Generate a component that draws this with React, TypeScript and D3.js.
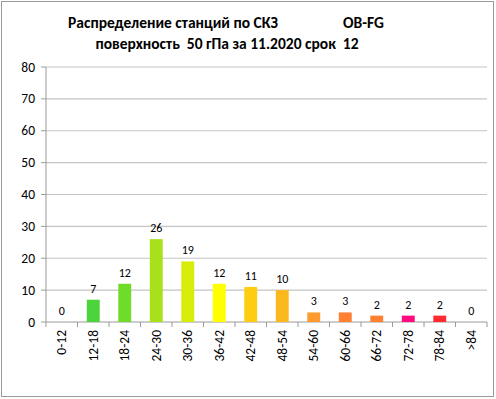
import React from "react";
import * as d3 from "d3";

const categories = ["0-12","12-18","18-24","24-30","30-36","36-42","42-48","48-54","54-60","60-66","66-72","72-78","78-84",">84"];
const values = [0,7,12,26,19,12,11,10,3,3,2,2,2,0];
const colors = ["#4cd43c","#4cd43c","#70dc2a","#a8e01a","#d8ec0a","#ffff00","#ffcc14","#fbb81e","#ff9a2e","#ff8030","#ff8030","#ff0880","#ff2a30","#ff2a30"];
const yTicks = [0,10,20,30,40,50,60,70,80];
const titleLine1 = "Распределение станций по СКЗ";
const titleTag = "OB-FG";
const titleLine2 = "поверхность  50 гПа за 11.2020 срок  12";

const W = 496, H = 399;
const left = 46, right = 487, top = 67, bottom = 322;
const font = "Carlito, Lato, 'Open Sans', sans-serif";

export default function App() {
  const x = d3.scaleBand<string>().domain(categories).range([left, right]).paddingInner(0.59).paddingOuter(0.295);
  const band = d3.scaleBand<string>().domain(categories).range([left, right]);
  const y = d3.scaleLinear().domain([0, 80]).range([bottom, top]);
  return (
    <svg width={W} height={H} style={{ position: "absolute", left: 0, top: 0 }}>
      <rect x={1.5} y={1.5} width={492} height={395} fill="#fff" stroke="#9a9a9a" strokeWidth={1} />
      <text x={68} y={28} fontFamily={font} fontWeight="bold" fontSize={15.5} fill="#000">{titleLine1}</text>
      <text x={343} y={28} fontFamily={font} fontWeight="bold" fontSize={15.5} fill="#000">{titleTag}</text>
      <text x={227} y={49} textAnchor="middle" fontFamily={font} fontWeight="bold" fontSize={15.5} fill="#000" style={{ whiteSpace: "pre" }}>{titleLine2}</text>
      {yTicks.map(t => (
        <g key={t}>
          {t > 0 && <line x1={left} x2={right} y1={y(t)} y2={y(t)} stroke="#c4c4c4" strokeWidth={1.2} />}
          <line x1={left - 5} x2={left} y1={y(t)} y2={y(t)} stroke="#9a9a9a" />
          <text x={35} y={y(t) + 4.5} textAnchor="end" fontFamily={font} fontSize={13.5} fill="#000">{t}</text>
        </g>
      ))}
      <line x1={left} x2={left} y1={top} y2={bottom} stroke="#9a9a9a" />
      <line x1={left} x2={right} y1={bottom} y2={bottom} stroke="#9a9a9a" />
      {categories.map((c, i) => (
        <line key={"t" + c} x1={band(c)!} x2={band(c)!} y1={bottom} y2={bottom + 5} stroke="#9a9a9a" />
      ))}
      <line x1={right} x2={right} y1={bottom} y2={bottom + 5} stroke="#9a9a9a" />
      {categories.map((c, i) => (
        <g key={c}>
          {values[i] > 0 && <rect x={x(c)!} y={y(values[i])} width={x.bandwidth()} height={bottom - y(values[i])} fill={colors[i]} />}
          <text x={x(c)! + x.bandwidth() / 2} y={y(values[i]) - 7} textAnchor="middle" fontFamily={font} fontSize={12} fill="#000">{values[i]}</text>
          <text transform={`translate(${band(c)! + band.bandwidth() / 2 + 4.5},${bottom + 8}) rotate(-90)`} textAnchor="end" fontFamily={font} fontSize={13.5} fill="#000">{c}</text>
        </g>
      ))}
    </svg>
  );
}
